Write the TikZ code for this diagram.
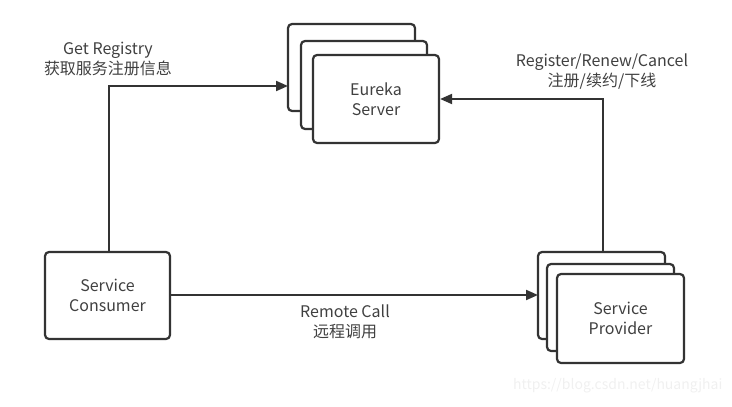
\documentclass[tikz,border=0pt]{standalone}
\usepackage{fontspec}
\setmainfont{Noto Sans CJK SC}
\usetikzlibrary{arrows.meta}
\begin{document}
\begin{tikzpicture}[x=1pt,y=-1pt,
  box/.style={draw=black!80,line width=2.2pt,rounded corners=4pt,fill=white},
  lbl/.style={align=center,font=\fontsize{16}{20}\selectfont,text=black!75},
  conn/.style={draw=black!80,line width=2pt,-{Triangle[length=12pt,width=10pt]}}]
\useasboundingbox (0,0) rectangle (732,407);
% Eureka server stack
\draw[box] (288,24) rectangle (415,111);
\draw[box] (301,41) rectangle (427,129);
\node[box,minimum width=126pt,minimum height=88pt,inner sep=0pt] (eur) at (376,99) {};
\node[lbl] (eurt) at (eur.center) {Eureka\\Server};
% Provider stack
\draw[box] (538,252) rectangle (665,339);
\draw[box] (547,264) rectangle (674,351);
\node[box,minimum width=127pt,minimum height=89pt,inner sep=0pt] (prov) at (620.5,318.5) {};
\node[lbl] at (prov.center) {Service\\Provider};
% Consumer
\node[box,minimum width=125pt,minimum height=87pt,inner sep=0pt] (cons) at (107.5,295.5) {};
\node[lbl] at (cons.center) {Service\\Consumer};
% connectors
\coordinate (eback) at (288,86);
\coordinate (pback) at (538,295);
\coordinate (ptop) at (603,252);
\draw[conn] (cons.north -| 109,0) |- (eback);
\draw[conn] (ptop) |- (eur.east |- 0,99);
\draw[conn] (cons.east |- 0,295) -- (pback);
% labels
\node[lbl] (l1) at (108,59) {Get Registry\\获取服务注册信息};
\node[lbl] (l2) at (602,72) {Register/Renew/Cancel\\注册/续约/下线};
\node[lbl] (l3) at (345,322) {Remote Call\\远程调用};
\node[font=\fontsize{14}{16}\selectfont,text=black!6,anchor=east] (wm) at (726,386) {https://blog.csdn.net/huangjhai};
\end{tikzpicture}
\end{document}
